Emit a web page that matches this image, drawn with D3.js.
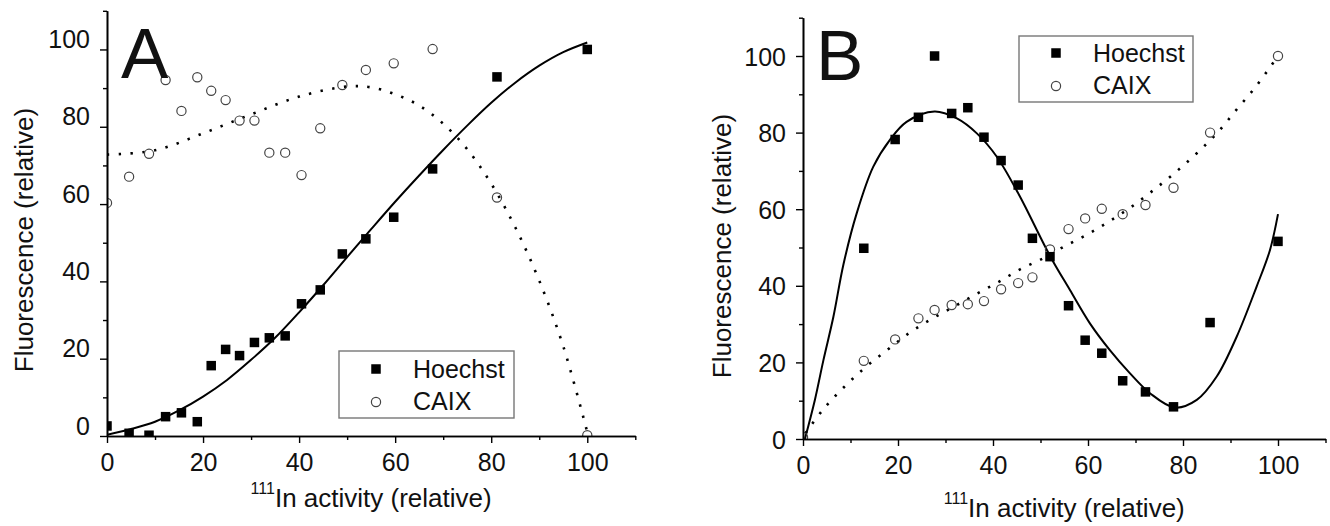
<!DOCTYPE html>
<html>
<head>
<meta charset="utf-8">
<script src="https://cdn.jsdelivr.net/npm/d3@7"></script>
<style>
  body { margin: 0; background: #fff; }
  text { font-family: "Liberation Sans", Arial, sans-serif; fill: #111; }
</style>
</head>
<body>
<div id="chart"></div>
<script>
// tick values shared by both panels
const majorTicks = [0, 20, 40, 60, 80, 100];
const minorTicks = [10, 30, 50, 70, 90, 110];

// panel A measured points
const xA = [0, 4.6, 8.75, 12.2, 15.5, 18.8, 21.7, 24.7, 27.6, 30.7, 33.8, 37.1, 40.5, 44.4, 49.0, 53.9, 59.7, 67.8, 81.2, 100];
const hoechstA = [2.6, 0.7, 0.2, 5.0, 6.0, 3.7, 18.2, 22.4, 20.8, 24.2, 25.4, 25.9, 34.2, 37.8, 47.1, 51.0, 56.6, 69.1, 92.9, 100];
const caixA = [60.3, 67.1, 73.0, 92.1, 84.1, 92.8, 89.3, 86.9, 81.6, 81.6, 73.3, 73.3, 67.5, 79.6, 90.8, 94.7, 96.4, 100.1, 61.7, 0.2];

// panel A fitted curves
const hoechstFitA = [[0,0.3],[5,1.8],[10,3.7],[15,6.6],[20,10.2],[25,14.5],[30,19.7],[35,25.4],[40,32],[45,39],[50,46.3],[55,53.5],[60,60.6],[65,67.4],[70,74],[75,80.3],[80,86.2],[85,91.4],[90,95.8],[95,99.3],[100,101.8]];
const caixFitA = [[0,72.8],[10,73.9],[20,78.3],[30,83.2],[40,87.8],[50,90.4],[55,90.2],[60,88.4],[65,85.5],[70,80.8],[75,74.2],[80,65.3],[85,54],[90,40.2],[95,23.2],[100,1]];

// panel B measured points
const xB = [0, 12.8, 19.4, 24.3, 27.7, 31.3, 34.7, 38.1, 41.7, 45.3, 48.3, 52.0, 55.9, 59.4, 62.9, 67.3, 72.1, 78.0, 85.7, 100];
const hoechstB = [null, 49.8, 78.2, 84.0, 100, 85.0, 86.5, 78.8, 72.7, 66.3, 52.4, 47.6, 34.8, 25.8, 22.4, 15.2, 12.3, 8.4, 30.4, 51.6];
const caixB = [0.5, 20.4, 26.0, 31.5, 33.7, 35.0, 35.2, 36.0, 39.1, 40.7, 42.2, 49.5, 54.8, 57.6, 60.1, 58.7, 61.1, 65.6, 80.0, 100];

// panel B fitted curves
const hoechstFitB = [[0.4,0],[2.5,10.2],[4.3,20.6],[6.4,31.9],[8.5,45.5],[11.3,58.9],[14.8,71.1],[18.3,78.1],[21.8,82.8],[27.7,85.5],[32.4,83.7],[36.6,79.8],[40.8,73.7],[45.5,63.7],[52,47.8],[56.2,38.9],[60.4,30.2],[64.6,23.2],[68.8,17.2],[73.1,11.9],[78.3,8.2],[82.9,10.2],[87.1,16.3],[91.3,26.7],[95.5,39.8],[98.3,49.3],[100,58.7]];
const caixFitB = [[0.5,1.5],[4.3,7.8],[8.6,13.5],[13.3,18.9],[18,23.5],[22.5,27.8],[27.3,31.5],[32,34.7],[36.7,38],[41.3,41.1],[45.7,44.3],[50.6,47.2],[54.9,50.2],[59.7,53.3],[64.3,56.7],[69,60.5],[73.6,64.8],[78.2,69.4],[82.9,74.6],[87.4,80.2],[91.4,86.2],[95.2,91.8],[98.7,97.7],[100,100]];

const seriesNames = ["Hoechst", "CAIX"];
const xTitle = "In activity (relative)";
const yTitle = "Fluorescence (relative)";

const width = 1330;
const height = 526;

const svg = d3.select("#chart").append("svg")
    .attr("width", width)
    .attr("height", height);

const panels = [
  {id: "A", x: xA, hoechst: hoechstA, caix: caixA, hFit: hoechstFitA, cFit: caixFitA,
   xr: [107, 635.3], yr: [436, 10.8], labelDy: "-0.08em",
   letter: [121, 78], yTitle: [33, 240], xTitleY: 507,
   legend: {x: 339, y: 351, w: 175, h: 67, mx: 376, my: [369, 402], tx: 413, ty: [378, 410]}},
  {id: "B", x: xB, hoechst: hoechstB, caix: caixB, hFit: hoechstFitB, cFit: caixFitB,
   xr: [803, 1325.5], yr: [439, 17.7], labelDy: "0.36em",
   letter: [816, 80], yTitle: [731, 246], xTitleY: 517,
   legend: {x: 1019, y: 36, w: 174, h: 66, mx: 1056, my: [53, 86], tx: 1093, ty: [62, 94]}}
];

const sq = 9.5;

panels.forEach(p => {
  const x = d3.scaleLinear().domain([0, 110]).range(p.xr);
  const y = d3.scaleLinear().domain([0, 110]).range(p.yr);
  const g = svg.append("g").attr("id", "panel" + p.id);

  // clip to the plot box, markers on the axes are cut in half
  g.append("clipPath").attr("id", "clip" + p.id)
    .append("rect")
      .attr("x", x(0)).attr("y", y(110))
      .attr("width", x(110) - x(0)).attr("height", y(0) - y(110));

  const plot = g.append("g").attr("clip-path", `url(#clip${p.id})`);

  const line = d3.line()
      .x(d => x(d[0]))
      .y(d => y(d[1]))
      .curve(d3.curveCatmullRom);

  plot.append("path")
      .attr("d", line(p.hFit))
      .attr("fill", "none")
      .attr("stroke", "#000")
      .attr("stroke-width", 2);

  plot.append("path")
      .attr("d", line(p.cFit))
      .attr("fill", "none")
      .attr("stroke", "#000")
      .attr("stroke-width", 2.6)
      .attr("stroke-dasharray", "2.4 9.4");

  const caixPts = p.x.map((v, i) => [v, p.caix[i]]).filter(d => d[1] != null);
  const hPts = p.x.map((v, i) => [v, p.hoechst[i]]).filter(d => d[1] != null);

  plot.selectAll("circle.caix").data(caixPts)
    .enter().append("circle")
      .attr("class", "caix")
      .attr("cx", d => x(d[0]))
      .attr("cy", d => y(d[1]))
      .attr("r", 4.6)
      .attr("fill", "none")
      .attr("stroke", "#444")
      .attr("stroke-width", 1.2);

  plot.selectAll("rect.hoechst").data(hPts)
    .enter().append("rect")
      .attr("class", "hoechst")
      .attr("x", d => x(d[0]) - sq / 2)
      .attr("y", d => y(d[1]) - sq / 2)
      .attr("width", sq)
      .attr("height", sq)
      .attr("fill", "#000");

  // axes: major + minor ticks, outward
  const yMajor = d3.axisLeft(y).tickValues(majorTicks).tickSize(7).tickSizeOuter(0).tickPadding(10);
  const yMinor = d3.axisLeft(y).tickValues(minorTicks).tickSize(4).tickSizeOuter(0).tickFormat("");
  const xMajor = d3.axisBottom(x).tickValues(majorTicks).tickSize(7).tickSizeOuter(0).tickPadding(10);
  const xMinor = d3.axisBottom(x).tickValues(minorTicks).tickSize(4).tickSizeOuter(0).tickFormat("");

  [yMajor, yMinor].forEach(ax => {
    g.append("g").attr("transform", `translate(${x(0)},0)`).call(ax);
  });
  [xMajor, xMinor].forEach(ax => {
    g.append("g").attr("transform", `translate(0,${y(0)})`).call(ax);
  });

  g.selectAll(".domain").attr("stroke", "#000").attr("stroke-width", 1.6);
  g.selectAll(".tick line").attr("stroke", "#000").attr("stroke-width", 1.4);
  g.selectAll(".tick text")
      .style("font-family", "'Liberation Sans', Arial, sans-serif")
      .attr("font-size", 25)
      .attr("fill", "#111");
  // y labels of panel A sit above their ticks
  g.selectAll(".tick text").filter(function() { return this.getAttribute("x") !== null && +this.getAttribute("x") < 0; })
      .attr("dy", p.labelDy);

  // titles
  g.append("text")
      .attr("transform", `translate(${p.yTitle[0]},${p.yTitle[1]}) rotate(-90)`)
      .attr("text-anchor", "middle")
      .attr("font-size", 26)
      .text(yTitle);

  const xt = g.append("text")
      .attr("x", (p.xr[0] + p.xr[1]) / 2)
      .attr("y", p.xTitleY)
      .attr("text-anchor", "middle")
      .attr("font-size", 26);
  xt.append("tspan").attr("font-size", 16).attr("dy", -13).text("111");
  xt.append("tspan").attr("dy", 13).text(xTitle);

  g.append("text")
      .attr("x", p.letter[0])
      .attr("y", p.letter[1])
      .attr("font-size", 71)
      .text(p.id);

  // legend
  const L = p.legend;
  const lg = g.append("g");
  lg.append("rect")
      .attr("x", L.x).attr("y", L.y)
      .attr("width", L.w).attr("height", L.h)
      .attr("fill", "#fff")
      .attr("stroke", "#777")
      .attr("stroke-width", 1.4);
  lg.append("rect")
      .attr("x", L.mx - sq / 2).attr("y", L.my[0] - sq / 2)
      .attr("width", sq).attr("height", sq)
      .attr("fill", "#000");
  lg.append("circle")
      .attr("cx", L.mx).attr("cy", L.my[1])
      .attr("r", 4.6)
      .attr("fill", "none")
      .attr("stroke", "#444")
      .attr("stroke-width", 1.2);
  seriesNames.forEach((n, i) => {
    lg.append("text")
        .attr("x", L.tx)
        .attr("y", L.ty[i])
        .attr("font-size", 25)
        .text(n);
  });
});
</script>
</body>
</html>
